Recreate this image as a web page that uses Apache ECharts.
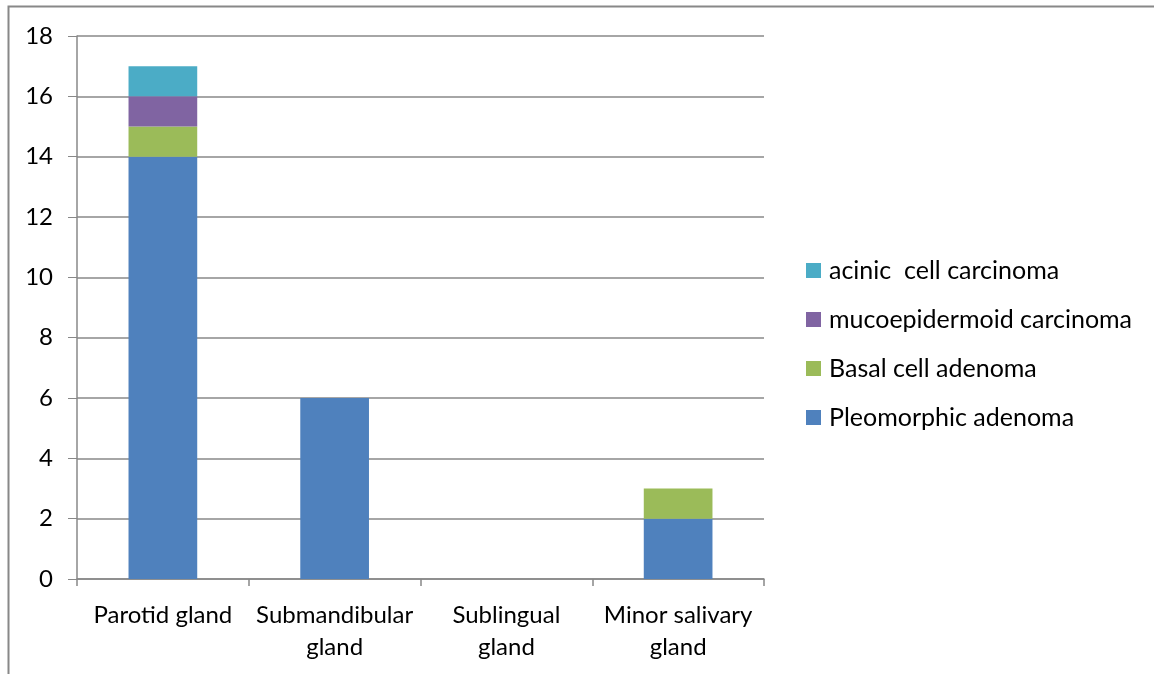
<!DOCTYPE html>
<html><head><meta charset="utf-8">
<script src="https://cdn.jsdelivr.net/npm/echarts@6/dist/echarts.min.js"></script>
<style>html,body{margin:0;padding:0;background:#fff}#c{width:1154px;height:674px}</style>
</head><body><div id="c"></div>
<script>
const categories = ['Parotid gland', 'Submandibular\ngland', 'Sublingual\ngland', 'Minor salivary\ngland'];
const pleomorphic = [14, 6, 0, 2];
const basal = [1, 0, 0, 1];
const mucoepidermoid = [1, 0, 0, 0];
const acinic = [1, 0, 0, 0];
const seriesNames = ['Pleomorphic adenoma', 'Basal cell adenoma', 'mucoepidermoid carcinoma', 'acinic  cell carcinoma'];
const colors = ['#4F81BD', '#9BBB59', '#8064A2', '#4BACC6'];
const FONT = 'Lato';
const chart = echarts.init(document.getElementById('c'));
const dataSets = [pleomorphic, basal, mucoepidermoid, acinic];
chart.setOption({
  animation: false,
  textStyle: {fontFamily: FONT},
  graphic: [{type: 'polyline', shape: {points: [[8.5, 680], [8.5, 6.5], [1160, 6.5]]}, style: {stroke: '#888', lineWidth: 2, fill: null}, silent: true}],
  grid: {left: 77, right: 390, top: 36, bottom: 95, containLabel: false},
  legend: {
    orient: 'vertical', left: 806, top: 258, itemGap: 24, itemWidth: 15, itemHeight: 15, padding: 0,
    data: [seriesNames[3], seriesNames[2], seriesNames[1], seriesNames[0]],
    textStyle: {fontSize: 25, lineHeight: 24, color: '#000', fontFamily: FONT, padding: [0, 0, 0, 3]},
    icon: 'rect'
  },
  xAxis: {
    type: 'category', data: categories,
    axisLine: {lineStyle: {color: '#888', width: 1.5}},
    axisTick: {show: true, length: 7, alignWithLabel: false, lineStyle: {color: '#888', width: 1.5}},
    axisLabel: {fontSize: 24, color: '#000', margin: 20, lineHeight: 32, interval: 0, fontFamily: FONT}
  },
  yAxis: {
    type: 'value', min: 0, max: 18, interval: 2,
    axisLine: {show: true, lineStyle: {color: '#888', width: 1.5}},
    axisTick: {show: true, length: 9, lineStyle: {color: '#888'}},
    splitLine: {lineStyle: {color: '#888', width: 1.5}},
    axisLabel: {fontSize: 24, color: '#000', margin: 24, fontFamily: FONT}
  },
  series: dataSets.map((d, i) => ({
    name: seriesNames[i], type: 'bar', stack: 'total', data: d, barWidth: '40%',
    itemStyle: {color: colors[i]}
  }))
});
</script></body></html>
